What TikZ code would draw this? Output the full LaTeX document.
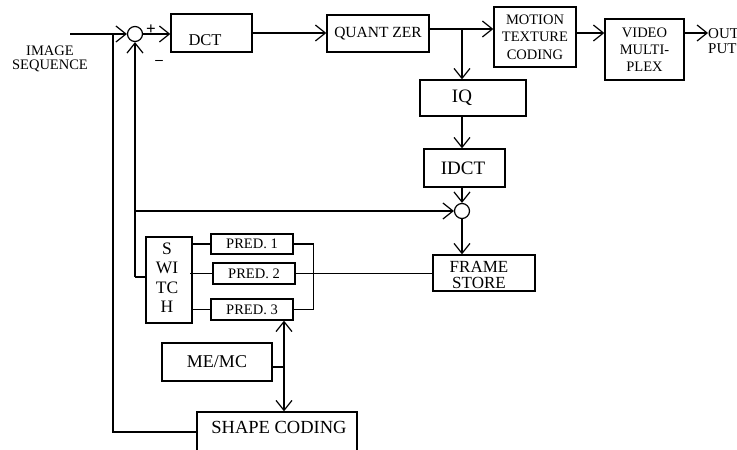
\documentclass[tikz,border=0pt]{standalone}
\usepackage{fontspec}
\setmainfont{Liberation Serif}
\usetikzlibrary{arrows.meta}
\tikzset{
  box/.style={draw, line width=1.3pt, inner sep=0pt},
  txt/.style={inner sep=0pt, align=center},
  ln/.style={line width=1.2pt},
  arr/.style={line width=1.2pt, -{Straight Barb[length=10pt,width=16pt,line width=1.2pt]}},
  sumc/.style={draw, circle, line width=1.2pt, inner sep=0pt, minimum size=15pt}
}
\newcommand{\fs}[2]{\fontsize{#1pt}{#2pt}\selectfont}
\begin{document}
\begin{tikzpicture}[x=1pt,y=-1pt]
\useasboundingbox (0,0) rectangle (737,450);
\clip (0,0) rectangle (737,450);
% input text
\node[txt, font=\fs{14.5}{14}] (imgseq) at (50,59) {IMAGE\\SEQUENCE};
% summing junctions
\node[sumc] (c1) at (135,34) {};
\node[sumc] (c2) at (462,211) {};
\node[txt, font=\bfseries\fs{17}{17}] (plus) at (151,30) {+};
\node[txt, font=\bfseries\fs{15}{15}] (minus) at (159,62) {--};
% boxes
\node[box, minimum width=81pt, minimum height=38pt] (dct) at (211.5,33) {};
\node[txt, font=\fs{16.5}{16}] (dctlbl) at (205,40) {DCT};
\node[box, minimum width=102pt, minimum height=37pt, font=\fs{15.5}{16}] (quant) at (378,33.5) {QUANT ZER};
\node[box, minimum width=82pt, minimum height=60pt, font=\fs{14.5}{17.5}, align=center] (motion) at (535,37) {MOTION\\TEXTURE\\CODING};
\node[box, minimum width=79pt, minimum height=61pt, font=\fs{14.5}{17}, align=center] (video) at (644.5,49.5) {VIDEO\\MULTI-\\PLEX};
\node[box, minimum width=106pt, minimum height=36pt] (iq) at (473,98) {};
\node[txt, font=\fs{19}{19}] (iqlbl) at (462,98) {IQ};
\node[box, minimum width=81pt, minimum height=38pt] (idct) at (464.5,168) {};
\node[txt, font=\fs{19}{19}] (idctlbl) at (463,168) {IDCT};
\node[box, minimum width=102pt, minimum height=36pt] (fs) at (484,273) {};
\node[txt, font=\fs{17}{16}] (fslbl) at (479,274.5) {FRAME\\STORE};
\node[box, minimum width=46pt, minimum height=86pt] (sw) at (169,280) {};
\node[txt, font=\fs{17.5}{19.5}] (swlbl) at (167,277.5) {S\\WI\\TC\\H};
\node[box, minimum width=82pt, minimum height=20pt, font=\fs{14.5}{14}] (p1) at (252,244) {PRED. 1};
\node[box, minimum width=82pt, minimum height=21pt, font=\fs{14.5}{14}] (p2) at (254,273.5) {PRED. 2};
\node[box, minimum width=82pt, minimum height=21pt, font=\fs{14.5}{14}] (p3) at (252,309.5) {PRED. 3};
\node[box, minimum width=110pt, minimum height=38pt, font=\fs{18}{18}] (me) at (217,362) {ME/MC};
\node[box, minimum width=160pt, minimum height=40pt] (sc) at (277,432) {};
\node[txt, font=\fs{18.5}{18}] (sclbl) at (279,427) {SHAPE CODING};
\node[txt, font=\fs{15}{15}, anchor=west, align=left] (outlbl) at (708,41) {OUT\\PUT};
% coordinates
\coordinate (inp) at (70,34);
\coordinate (br) at (113,34);
\coordinate (q) at (462,29);
\coordinate (outpt) at (708,33);
\coordinate (fb) at (135,277);
\coordinate (tap) at (135,211);
\coordinate (mel) at (284,367);
% connectors
\draw[arr] (inp) -- (c1.west);
\draw[ln] (br) |- (sc.west);
\draw[arr] (c1.east) -- (c1.east -| dct.west);
\draw[arr] (dct.east |- 0,33) -- (quant.west |- 0,33);
\draw[ln] (quant.east |- q) -- (q);
\draw[arr] (q) -- (q -| motion.west);
\draw[arr] (q) -- (q |- iq.north);
\draw[arr] (motion.east |- outpt) -- (video.west |- outpt);
\draw[arr] (video.east |- outpt) -- (outpt);
\draw[arr] (q |- iq.south) -- (q |- idct.north);
\draw[arr] (q |- idct.south) -- (c2.north);
\draw[arr] (c2.south) -- (c2.south |- fs.north);
\draw[arr] (tap) -- (c2.west);
\draw[ln] (sw.west |- fb) -- (fb);
\draw[arr] (fb) -- (c1.south);
\draw[ln] (sw.east |- p1.west) -- (p1.west);
\draw[ln] (p2.west) -- ++(-22,0);
\draw[ln] (sw.east |- p3.west) -- (p3.west);
\draw[ln] (p1.east) -- ++(20,0) |- (p3.east);
\draw[ln] (p2.east) -- (p2.east -| fs.west);
\draw[ln] (me.east |- mel) -- (mel);
\draw[arr] (mel) -- (mel |- p3.south);
\draw[arr] (mel) -- (mel |- sc.north);
\end{tikzpicture}
\end{document}
